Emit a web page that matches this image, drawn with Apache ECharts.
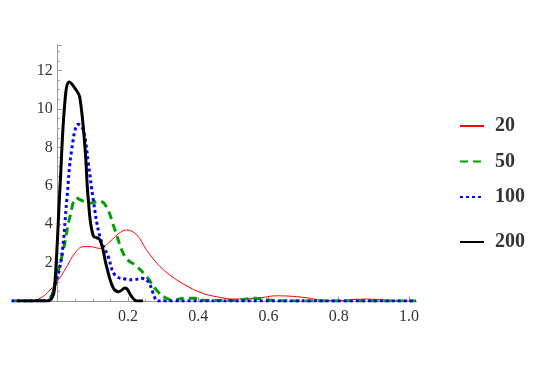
<!DOCTYPE html>
<html>
<head>
<meta charset="utf-8">
<script src="https://cdn.jsdelivr.net/npm/echarts@6/dist/echarts.min.js"></script>
<style>
  html, body { margin: 0; padding: 0; background: #fff; }
  #chart { width: 545px; height: 385px; }
</style>
</head>
<body>
<div id="chart"></div>
<script>
// density curves
const redX = [-0.131, -0.08, -0.05, -0.022, 0.002, 0.026, 0.049, 0.073, 0.092, 0.12, 0.149, 0.173, 0.196, 0.225, 0.253, 0.291, 0.339, 0.405, 0.453, 0.5, 0.54, 0.576, 0.62, 0.652, 0.709, 0.756, 0.8, 0.87, 0.908, 0.96, 1.02];
const redY = [0, 0.02, 0.14, 0.57, 1.1, 1.8, 2.5, 2.83, 2.83, 2.74, 3.1, 3.5, 3.7, 3.44, 2.66, 1.8, 1.1, 0.45, 0.22, 0.1, 0.12, 0.16, 0.27, 0.26, 0.17, 0.03, 0.02, 0.1, 0.08, 0.01, 0];

const greenX = [-0.131, -0.04, -0.02, -0.008, 0.016, 0.035, 0.054, 0.073, 0.092, 0.12, 0.139, 0.163, 0.192, 0.225, 0.253, 0.281, 0.31, 0.33, 0.36, 0.39, 0.42, 0.5, 0.56, 0.6, 0.65, 1.02];
const greenY = [0, 0.02, 0.2, 0.9, 2.65, 4.4, 5.35, 5.2, 5.1, 5.2, 4.9, 3.7, 2.3, 1.8, 1.27, 0.57, 0.14, 0.05, 0.15, 0.14, 0.03, 0.03, 0.14, 0.05, 0, 0];

const blueX = [-0.131, -0.03, -0.008, 0.011, 0.026, 0.04, 0.059, 0.073, 0.087, 0.101, 0.12, 0.144, 0.163, 0.196, 0.215, 0.239, 0.258, 0.272, 0.286, 1.02];
const blueY = [0, 0.02, 0.83, 2.3, 5.3, 7.9, 9.2, 8.9, 7.2, 5.3, 3.35, 2.3, 1.35, 1.13, 1.1, 1.18, 1.0, 0.4, 0, 0];

const blackX = [-0.117, -0.031, -0.015, -0.008, 0.007, 0.021, 0.033, 0.052, 0.063, 0.078, 0.087, 0.101, 0.12, 0.139, 0.158, 0.173, 0.192, 0.211, 0.225, 0.243];
const blackY = [0, 0, 0.2, 0.9, 6.1, 10.5, 11.4, 11.0, 10.6, 7.9, 5.3, 3.4, 3.2, 1.8, 0.68, 0.48, 0.68, 0.22, 0, 0];

const seriesNames = ['20', '50', '100', '200'];
const xLabels = [0.2, 0.4, 0.6, 0.8, 1.0];
const xMinorTicks = [-0.1, -0.05, 0.05, 0.1, 0.15, 0.25, 0.3, 0.35, 0.45, 0.5, 0.55, 0.65, 0.7, 0.75, 0.85, 0.9, 0.95];
const yLabels = [2, 4, 6, 8, 10, 12];

const pairs = (xs, ys) => xs.map((x, i) => [x, ys[i]]);

const chart = echarts.init(document.getElementById('chart'));

const serif = 'Liberation Serif';
const axisGray = '#999';

function lineSeries(name, xs, ys, color, width, type) {
  return {
    name: name,
    type: 'line',
    data: pairs(xs, ys),
    smooth: 0.4,
    symbol: 'none',
    lineStyle: { color: color, width: width, type: type },
    itemStyle: { color: color },
    z: 3
  };
}

const legendText = { fontFamily: serif, fontSize: 20, fontWeight: 'bold', color: '#333', padding: [0, 0, 0, 6] };

const option = {
  animation: false,
  grid: { left: 11.7, right: 128.3, top: 45, bottom: 84, outerBoundsMode: 'none', containLabel: false },
  xAxis: [
    {
      type: 'value',
      min: -0.131,
      max: 1.022,
      axisLine: { onZero: true, lineStyle: { color: axisGray, width: 1 } },
      axisTick: { inside: true, length: 4, customValues: xLabels, lineStyle: { color: axisGray } },
      axisLabel: {
        customValues: xLabels,
        formatter: v => v.toFixed(1),
        fontFamily: serif, fontSize: 16, color: '#333', margin: 8
      },
      splitLine: { show: false }
    },
    {
      type: 'value',
      min: -0.131,
      max: 1.022,
      position: 'bottom',
      axisLine: { show: false },
      axisTick: { inside: true, length: 2, customValues: xMinorTicks, lineStyle: { color: axisGray } },
      axisLabel: { show: false },
      splitLine: { show: false }
    }
  ],
  yAxis: {
    type: 'value',
    min: 0,
    max: 13.33,
    interval: 2,
    axisLine: { show: true, onZero: true, onZeroAxisIndex: 0, lineStyle: { color: axisGray, width: 1 } },
    axisTick: { show: true, inside: true, length: 4, lineStyle: { color: axisGray } },
    minorTick: { show: true, splitNumber: 4, length: 2, lineStyle: { color: axisGray } },
    axisLabel: {
      formatter: v => (yLabels.indexOf(v) >= 0 ? String(v) : ''),
      // labels stay at the grid edge, so pull them over to the y axis at x = 0
      fontFamily: serif, fontSize: 16, color: '#333', margin: -41
    },
    splitLine: { show: false }
  },
  legend: [
    {
      data: seriesNames.slice(0, 3),
      orient: 'vertical',
      left: 459, top: 116,
      padding: 0,
      itemWidth: 24, itemHeight: 22, itemGap: 15.5,
      itemStyle: { opacity: 0 },
      textStyle: legendText
    },
    {
      data: seriesNames.slice(3),
      orient: 'vertical',
      left: 459, top: 232,
      padding: 0,
      itemWidth: 24, itemHeight: 22,
      itemStyle: { opacity: 0 },
      textStyle: legendText
    }
  ],
  series: [
    lineSeries(seriesNames[0], redX, redY, '#ff0000', 1, 'solid'),
    lineSeries(seriesNames[1], greenX, greenY, '#00a000', 3, [8, 5]),
    lineSeries(seriesNames[2], blueX, blueY, '#0000ff', 3, [3, 3]),
    lineSeries(seriesNames[3], blackX, blackY, '#000000', 3, 'solid')
  ]
};

chart.setOption(option);
</script>
</body>
</html>
